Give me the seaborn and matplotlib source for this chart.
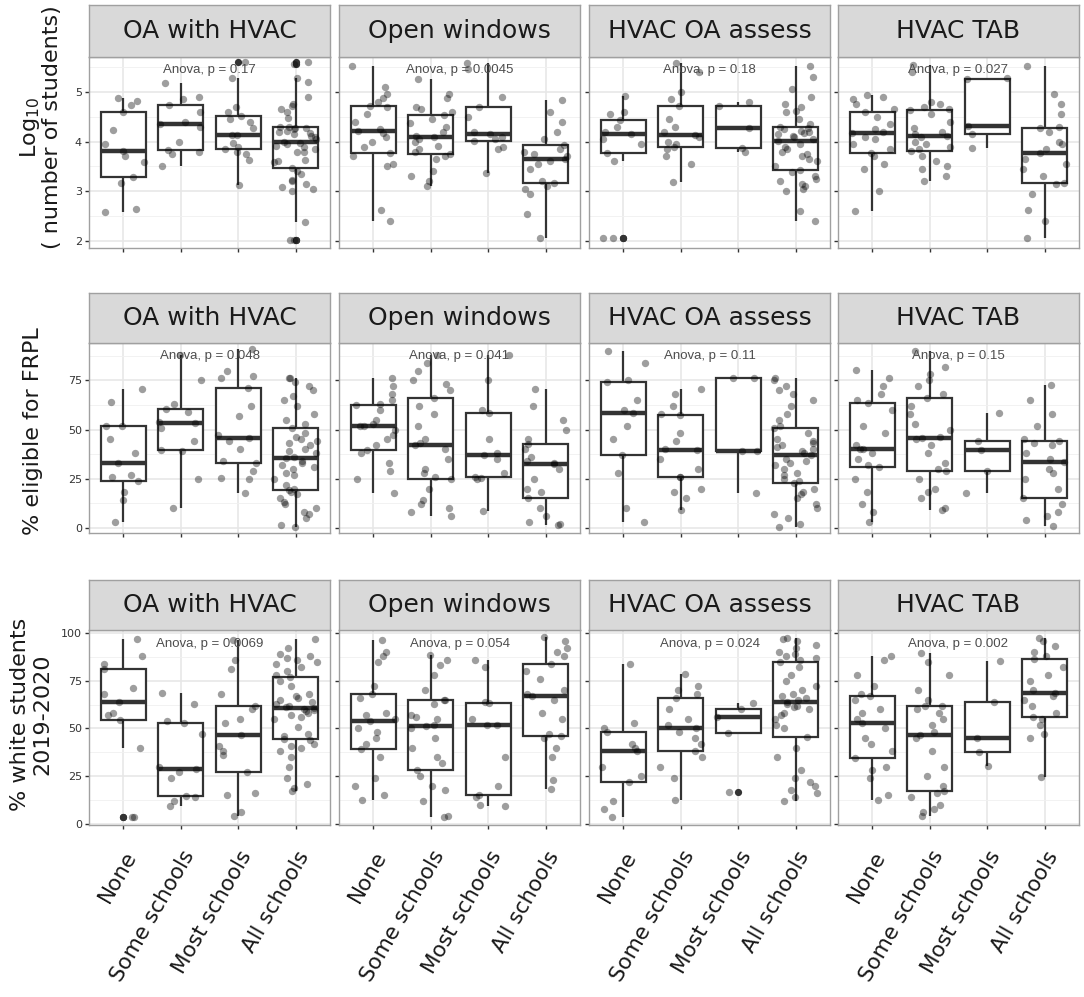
import numpy as np
import pandas as pd
import matplotlib
matplotlib.use("Agg")
import matplotlib.pyplot as plt
import seaborn as sns
from matplotlib.ticker import MultipleLocator

np.random.seed(7)

levels = ["None", "Some schools", "Most schools", "All schools"]
practices = ["OA with HVAC", "Open windows", "HVAC OA assess", "HVAC TAB"]

# ---- row 1: log10 number of students ----
students_oa_hvac = [
    [2.59, 2.64, 3.17, 3.28, 3.59, 3.70, 3.82, 3.96, 4.23, 4.60, 4.74, 4.81, 4.88],
    [3.50, 3.75, 3.80, 3.84, 4.00, 4.30, 4.36, 4.40, 4.60, 4.74, 4.85, 4.90, 5.18],
    [3.13, 3.62, 3.75, 3.80, 3.86, 3.90, 3.97, 4.13, 4.14, 4.28, 4.40, 4.45, 4.52,
     4.60, 4.70, 5.28, 5.59],
    [2.03, 2.03, 2.39, 3.00, 3.05, 3.08, 3.15, 3.20, 3.22, 3.35, 3.40, 3.46, 3.58,
     3.60, 3.62, 3.78, 3.80, 3.85, 3.90, 3.92, 3.95, 3.98, 4.00, 4.05, 4.10, 4.12,
     4.15, 4.18, 4.20, 4.22, 4.25, 4.27, 4.28, 4.29, 4.30, 4.48, 4.60, 4.65, 4.72,
     4.75, 4.90, 5.20, 5.28, 5.56, 5.59],
]
students_open_windows = [
    [2.41, 2.62, 3.50, 3.55, 3.70, 3.76, 3.90, 4.00, 4.10, 4.18, 4.22, 4.25, 4.40,
     4.55, 4.70, 4.72, 4.80, 4.88, 4.95, 5.10, 5.52],
    [3.11, 3.20, 3.30, 3.40, 3.65, 3.70, 3.74, 3.80, 3.85, 3.92, 4.00, 4.05, 4.09,
     4.12, 4.20, 4.30, 4.38, 4.45, 4.53, 4.60, 4.65, 4.70, 4.88, 4.95, 5.26],
    [3.37, 3.85, 3.90, 4.01, 4.05, 4.10, 4.16, 4.20, 4.50, 4.69, 4.90, 5.45, 5.57],
    [2.06, 2.55, 2.95, 3.05, 3.10, 3.16, 3.20, 3.45, 3.55, 3.60, 3.64, 3.70, 3.75,
     3.78, 3.85, 3.93, 4.05, 4.20, 4.40, 4.60, 4.84],
]
students_oa_assess = [
    [2.06, 2.06, 3.61, 3.77, 3.95, 4.05, 4.16, 4.20, 4.30, 4.44, 4.55, 4.60, 4.91],
    [3.19, 3.55, 3.70, 3.85, 3.89, 3.95, 4.00, 4.10, 4.14, 4.20, 4.30, 4.45, 4.72,
     4.85, 5.00, 5.40, 5.57],
    [3.80, 3.87, 4.27, 4.72, 4.80],
    [2.41, 2.60, 3.00, 3.05, 3.10, 3.15, 3.20, 3.25, 3.30, 3.38, 3.42, 3.50, 3.60,
     3.65, 3.70, 3.75, 3.80, 3.85, 3.90, 3.95, 4.01, 4.05, 4.10, 4.12, 4.15, 4.18,
     4.20, 4.22, 4.25, 4.27, 4.29, 4.35, 4.45, 4.60, 4.62, 4.70, 4.75, 4.90, 5.05,
     5.30, 5.51],
]
students_tab = [
    [2.61, 3.00, 3.45, 3.55, 3.70, 3.76, 3.85, 3.95, 4.05, 4.10, 4.17, 4.20, 4.25,
     4.35, 4.50, 4.59, 4.65, 4.75, 4.85, 4.90, 4.94],
    [3.21, 3.30, 3.45, 3.50, 3.60, 3.70, 3.81, 3.85, 3.90, 3.95, 4.00, 4.10, 4.12,
     4.15, 4.20, 4.28, 4.40, 4.55, 4.63, 4.65, 4.70, 4.75, 4.80, 5.40, 5.54],
    [3.87, 4.15, 4.31, 5.26, 5.27],
    [2.06, 2.40, 2.62, 2.95, 3.15, 3.17, 3.30, 3.45, 3.55, 3.65, 3.76, 3.85, 3.95,
     4.00, 4.20, 4.27, 4.30, 4.55, 4.75, 4.95, 5.51],
]
p_students = ["0.17", "0.0045", "0.18", "0.027"]

# ---- row 2: % eligible for FRPL ----
frpl_oa_hvac = [
    [2.9, 14.0, 18.0, 24.0, 26.0, 27.0, 33.0, 38.0, 45.0, 51.7, 52.0, 64.0, 70.4],
    [10.0, 25.0, 39.0, 39.6, 44.0, 51.0, 53.1, 54.0, 59.0, 60.5, 63.0, 75.0, 87.8],
    [17.7, 25.0, 25.5, 29.0, 33.0, 34.0, 40.0, 44.0, 45.7, 47.0, 57.0, 62.0, 70.9,
     76.0, 77.0, 80.0, 90.8],
    [0.7, 1.5, 5.0, 7.0, 8.0, 10.0, 12.0, 13.0, 15.0, 17.0, 18.0, 19.4, 20.0, 22.0,
     25.0, 27.0, 28.0, 30.0, 31.0, 32.0, 33.0, 34.0, 35.5, 36.0, 38.0, 39.0, 40.0,
     42.0, 43.0, 44.0, 45.0, 46.0, 48.0, 50.7, 53.0, 55.0, 58.0, 62.0, 65.0, 67.0,
     70.0, 72.0, 74.0, 76.0, 76.0],
]
frpl_open_windows = [
    [17.7, 25.0, 29.0, 33.0, 38.0, 39.8, 42.0, 45.0, 47.0, 50.0, 51.7, 52.0, 53.0,
     55.0, 60.0, 62.4, 63.0, 65.0, 68.0, 72.0, 76.0],
    [5.8, 8.0, 10.0, 12.0, 14.0, 20.0, 24.8, 26.0, 28.0, 30.0, 35.0, 40.0, 42.3,
     43.0, 45.0, 52.0, 58.0, 62.0, 66.2, 70.0, 73.0, 75.0, 80.0, 84.0, 88.0],
    [8.8, 25.0, 25.5, 25.7, 28.0, 35.0, 37.2, 38.0, 45.0, 58.5, 60.0, 75.0, 88.0],
    [1.5, 2.0, 3.0, 6.0, 10.0, 15.1, 18.0, 20.0, 25.0, 30.0, 32.5, 33.0, 34.0, 36.0,
     40.0, 42.7, 45.0, 50.0, 55.0, 62.0, 70.4],
]
frpl_oa_assess = [
    [3.2, 10.0, 28.0, 36.9, 45.0, 52.0, 58.2, 60.0, 65.0, 74.1, 75.0, 84.0, 90.0],
    [9.2, 15.0, 18.0, 20.0, 25.9, 26.0, 30.0, 35.0, 39.5, 40.0, 44.0, 48.0, 57.3,
     58.0, 62.0, 68.0, 70.4],
    [17.7, 39.3, 39.3, 76.4, 76.4],
    [0.7, 2.0, 5.0, 7.0, 10.0, 12.0, 15.0, 17.0, 18.0, 20.0, 22.8, 24.0, 25.0, 27.0,
     28.0, 30.0, 32.0, 33.0, 34.0, 35.0, 36.9, 38.0, 39.0, 40.0, 41.0, 42.0, 43.0,
     44.0, 45.0, 48.0, 50.9, 52.0, 55.0, 58.0, 62.0, 65.0, 68.0, 70.0, 72.0, 75.0,
     76.4],
]
frpl_tab = [
    [2.9, 8.0, 12.0, 18.0, 25.0, 30.8, 32.0, 35.0, 38.0, 40.0, 40.3, 42.0, 48.0,
     52.0, 60.0, 63.3, 65.0, 68.0, 72.0, 76.0, 80.1],
    [9.2, 10.0, 15.0, 18.0, 20.0, 25.0, 28.7, 30.0, 33.0, 38.0, 42.0, 45.0, 45.7,
     46.0, 50.0, 53.0, 58.0, 62.0, 66.2, 68.0, 72.0, 75.0, 78.0, 82.0, 90.0],
    [17.7, 28.7, 39.8, 44.4, 58.5],
    [1.0, 4.0, 6.0, 8.0, 12.0, 15.1, 20.0, 25.0, 28.0, 30.0, 33.3, 35.0, 38.0, 42.0,
     43.0, 44.0, 45.0, 52.0, 58.0, 65.0, 72.4],
]
p_frpl = ["0.048", "0.041", "0.11", "0.15"]

# ---- row 3: % white students 2019-2020 ----
white_oa_hvac = [
    [3.8, 3.8, 39.6, 54.3, 57.0, 58.0, 64.0, 68.0, 71.0, 81.2, 84.0, 88.0, 96.7],
    [9.1, 12.0, 14.0, 14.7, 24.0, 27.0, 28.6, 30.0, 47.0, 53.0, 54.0, 63.0, 68.4],
    [4.2, 6.0, 15.0, 16.0, 27.4, 36.0, 38.0, 41.0, 46.6, 53.0, 55.0, 60.0, 61.9,
     68.0, 81.0, 86.0, 96.3],
    [17.4, 19.0, 21.0, 24.0, 30.0, 35.0, 38.0, 40.0, 41.0, 42.0, 44.0, 44.5, 46.0,
     47.0, 51.0, 55.0, 56.0, 57.0, 58.0, 59.0, 59.5, 60.0, 60.6, 61.0, 62.0, 63.0,
     64.0, 65.0, 66.0, 67.0, 68.0, 72.0, 75.0, 76.8, 78.0, 80.0, 82.0, 84.0, 85.0,
     86.0, 87.0, 88.0, 89.0, 92.0, 96.7],
]
white_open_windows = [
    [12.6, 15.0, 20.0, 24.0, 35.0, 39.1, 42.0, 45.0, 48.0, 50.0, 54.1, 55.0, 57.0,
     58.0, 66.0, 68.1, 72.0, 85.0, 88.0, 90.0, 96.3],
    [3.8, 4.0, 12.0, 18.0, 20.0, 25.0, 28.3, 32.0, 35.0, 40.0, 45.0, 50.0, 51.5,
     52.0, 55.0, 56.0, 57.0, 63.0, 64.9, 65.0, 70.0, 78.0, 83.0, 86.0, 88.5],
    [9.1, 10.0, 14.0, 15.2, 20.0, 35.0, 51.8, 52.0, 55.0, 63.5, 64.0, 82.0, 85.9],
    [18.2, 23.0, 35.0, 40.0, 45.0, 46.2, 47.0, 55.0, 58.0, 65.0, 67.2, 68.0, 70.0,
     76.0, 80.0, 83.6, 88.0, 90.0, 92.0, 96.0, 98.0],
]
white_oa_assess = [
    [3.8, 8.0, 12.0, 22.1, 25.0, 30.0, 38.4, 40.0, 42.0, 48.3, 50.0, 53.0, 83.8],
    [12.6, 24.0, 30.0, 35.0, 38.2, 42.0, 45.0, 48.0, 50.1, 52.0, 55.0, 60.0, 66.1,
     68.0, 70.0, 72.0, 78.5],
    [16.9, 47.8, 56.2, 60.0, 63.5],
    [12.2, 14.0, 16.0, 18.0, 20.0, 22.0, 24.0, 28.0, 35.0, 40.0, 45.7, 50.0, 52.0,
     55.0, 57.0, 58.0, 60.0, 61.0, 62.0, 63.0, 64.0, 65.0, 66.0, 67.0, 68.0, 70.0,
     72.0, 75.0, 78.0, 82.0, 84.7, 86.0, 87.0, 88.0, 89.0, 90.0, 92.0, 94.0, 96.0,
     97.0, 97.2],
]
white_tab = [
    [12.6, 15.0, 24.0, 28.0, 30.0, 34.7, 38.0, 42.0, 45.0, 50.0, 52.7, 55.0, 58.0,
     60.0, 65.0, 67.0, 68.0, 72.0, 78.0, 86.0, 88.0],
    [4.2, 6.0, 8.0, 10.0, 14.0, 16.0, 17.3, 20.0, 25.0, 30.0, 38.0, 45.0, 46.6,
     48.0, 52.0, 55.0, 58.0, 60.0, 61.9, 62.0, 65.0, 70.0, 78.0, 85.0, 89.4],
    [30.4, 37.9, 44.9, 64.0, 85.5],
    [24.4, 45.0, 47.0, 52.0, 55.0, 56.2, 58.0, 62.0, 65.0, 67.0, 68.4, 70.0, 75.0,
     78.0, 82.0, 86.4, 88.0, 90.0, 93.0, 96.0, 97.2],
]
p_white = ["0.0069", "0.054", "0.024", "0.002"]

rows = [
    ("students", [students_oa_hvac, students_open_windows, students_oa_assess, students_tab], p_students),
    ("frpl", [frpl_oa_hvac, frpl_open_windows, frpl_oa_assess, frpl_tab], p_frpl),
    ("white", [white_oa_hvac, white_open_windows, white_oa_assess, white_tab], p_white),
]

records = []
for measure, panels, _ in rows:
    for practice, groups in zip(practices, panels):
        for level, vals in zip(levels, groups):
            for v in vals:
                records.append((measure, practice, level, v))
df = pd.DataFrame(records, columns=["measure", "practice", "level", "value"])

# ---- style ----
sns.set_style("white")
plt.rcParams["font.family"] = ["DejaVu Sans"]

W, H = 1084, 997
fig = plt.figure(figsize=(W / 100, H / 100), dpi=100)

lefts = [89, 339, 589, 838]
pw = 241
row_px = [(5, 57, 248), (293, 343, 533), (580, 630, 825)]
ylims = [(1.86, 5.7), (-2.6, 94), (-0.6, 101.6)]
major = [1, 25, 25]
ylabels = [("Log$_{10}$\n( number of students)", 40, 127, 0.95),
           ("% eligible for FRPL", 33, 431, 1.2),
           ("% white students\n2019-2020", 31, 714, 1.15)]


def frac(x0, y0, x1, y1):
    return [x0 / W, 1 - y1 / H, (x1 - x0) / W, (y1 - y0) / H]


for i, (measure, panels, pvals) in enumerate(rows):
    s_top, p_top, p_bot = row_px[i]
    for j, practice in enumerate(practices):
        ax = fig.add_axes(frac(lefts[j], p_top, lefts[j] + pw, p_bot))
        sub = df[(df.measure == measure) & (df.practice == practice)]

        sns.boxplot(data=sub, x="level", y="value", order=levels, ax=ax,
                    width=0.78, color="white", linecolor="#333333", linewidth=1.6,
                    showcaps=False,
                    medianprops=dict(linewidth=3.2),
                    flierprops=dict(marker="o", markersize=5.2,
                                    markerfacecolor="#333333",
                                    markeredgewidth=0))
        sns.stripplot(data=sub, x="level", y="value", order=levels, ax=ax,
                      color="black", alpha=0.38, size=5.3, jitter=0.38,
                      linewidth=0, zorder=3)

        ax.set_xlim(-0.6, 3.6)
        ax.set_ylim(*ylims[i])
        ax.yaxis.set_major_locator(MultipleLocator(major[i]))
        ax.yaxis.set_minor_locator(MultipleLocator(major[i] / 2))
        ax.set_axisbelow(True)
        ax.grid(which="major", color="#E6E6E6", linewidth=1.1)
        ax.grid(which="minor", axis="y", color="#F0F0F0", linewidth=0.6)
        for s in ax.spines.values():
            s.set_color("#A0A0A0")
            s.set_linewidth(1)
        ax.set_xlabel("")
        ax.set_ylabel("")
        ax.tick_params(axis="both", which="major", length=3, width=1,
                       color="#333333", labelsize=8, labelcolor="#333333", pad=2,
                       left=True, bottom=True)
        ax.tick_params(axis="y", which="minor", length=0)
        ax.set_xticks(range(len(levels)))
        if i == 2:
            ax.set_xticklabels(levels, rotation=60, ha="right", va="top",
                               rotation_mode="anchor", fontsize=15.5, color="#1A1A1A")
            ax.tick_params(axis="x", pad=13)
        else:
            ax.tick_params(axis="x", labelbottom=False)
        if j > 0:
            ax.tick_params(axis="y", labelleft=False)

        ax.text(0.5, 0.93, f"Anova, p = {pvals[j]}", transform=ax.transAxes,
                ha="center", va="center", fontsize=9.5, color="#4D4D4D",
                family=["Liberation Sans", "DejaVu Sans"], zorder=5)

        sax = fig.add_axes(frac(lefts[j], s_top, lefts[j] + pw, p_top))
        sax.set_facecolor("#D9D9D9")
        sax.set_xticks([])
        sax.set_yticks([])
        for s in sax.spines.values():
            s.set_color("#A0A0A0")
            s.set_linewidth(1)
        sax.text(0.5, 0.5, practice, transform=sax.transAxes, ha="center",
                 va="center", fontsize=18, color="#1A1A1A")

    label, lx, ly, ls = ylabels[i]
    fig.text(lx / W, 1 - ly / H, label, rotation=90, ha="center", va="center",
             fontsize=16, color="#1A1A1A", linespacing=ls, multialignment="center")

fig.savefig("out.png", dpi=100, facecolor="white")
